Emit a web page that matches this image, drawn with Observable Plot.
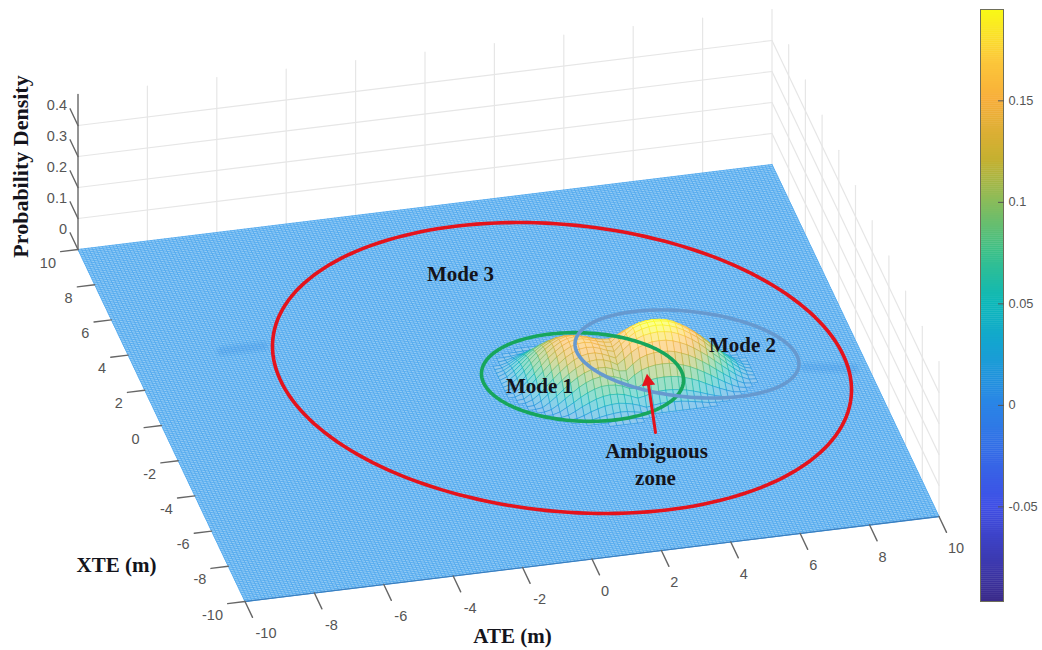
<!DOCTYPE html>
<html><head><meta charset="utf-8">
<script src="https://cdn.jsdelivr.net/npm/d3@7"></script>
<script src="https://cdn.jsdelivr.net/npm/@observablehq/plot@0.6"></script>
<style>
html,body{margin:0;padding:0;background:#fff;overflow:hidden}
#wrap{position:relative;width:1042px;height:650px}
#wrap svg{position:absolute;top:0;display:block}
</style></head><body><div id="wrap"></div>
<script>
// Heights (thousandths of density) are hand estimates from the picture's silhouette and colours; the hidden back slopes are guesses.
const ateTicks=[-10,-8,-6,-4,-2,0,2,4,6,8,10];
const xteTicks=[-10,-8,-6,-4,-2,0,2,4,6,8,10];
const zTicks=[0,0.1,0.2,0.3,0.4];
const barTicks=[-0.05,0,0.05,0.1,0.15];
const colorStops=[-0.0966,-0.05,0,0.03,0.05,0.075,0.1,0.12,0.15,0.17,0.195];
const colorRange=["#3a2a8a","#3f4fe6","#2a85e6","#14a5d0","#0cb8b8","#3cc088","#8abc5a","#c4b030","#f8ae3a","#fcc93a","#f9fb15"];
const rowXTE=[1.6,1.4,1.2,1.0,0.8,0.6,0.4,0.2,0,-0.2,-0.4,-0.6,-0.8,-1.0,-1.2,-1.4,-1.6,-1.8,-2.0,-2.2,-2.4,-2.6,-2.8];
const rowStartATE=[0.8,0.4,0.2,0.2,0,0,0,0,0,0,0,0,0.2,0.2,0.4,0.4,0.6,0.8,1.0,1.2,1.4,1.8,2.4];
const rowHeights=[
[1,1,1,1],
[1,4,8,10,10,9,6,3],
[2,7,14,20,24,26,25,22,16,10,3],
[6,16,25,34,40,44,44,41,35,26,17,7,1],
[3,12,25,37,48,57,62,63,61,55,46,35,22,10,2,0,2,5,7,8,9,8,7,5,2],
[6,18,33,48,62,72,80,83,82,77,67,60,50,38,28,26,30,32,33,34,34,33,31,27,22,16,10,4],
[8,22,39,57,73,86,95,100,100,96,88,80,70,60,52,50,56,60,61,62,62,61,58,53,46,38,29,20,12,4],
[8,24,43,63,80,96,107,115,117,115,107,100,90,80,72,72,80,85,89,93,94,93,89,83,75,65,54,42,29,18,8,1],
[8,24,44,66,86,103,116,126,130,129,123,116,108,98,92,98,104,111,118,122,124,122,118,111,102,91,78,64,49,34,20,9,1],
[6,23,44,66,87,106,122,133,139,140,136,130,122,115,110,120,128,137,144,149,150,149,144,137,127,114,100,85,67,50,33,18,6],
[4,19,39,63,85,105,122,136,144,147,144,138,132,128,126,135,146,156,164,169,170,169,164,156,146,133,117,101,82,63,45,27,13,2],
[1,14,34,56,79,101,119,135,145,150,149,143,136,130,127,145,158,170,178,182,184,182,178,170,158,145,129,111,92,72,53,34,18,5],
[8,26,50,71,93,113,129,141,147,149,145,136,128,124,140,160,176,184,188,190,188,184,176,164,150,135,116,97,77,57,37,20,6],
[2,16,36,59,81,101,119,132,141,144,142,135,126,120,140,158,173,181,186,188,186,181,173,162,148,133,115,95,75,55,36,19,6],
[8,24,45,67,87,105,120,130,135,135,129,120,110,132,150,164,172,176,178,176,172,164,153,140,124,106,87,69,49,31,15,4],
[1,13,31,51,71,89,104,116,122,124,121,113,100,116,134,147,155,160,161,160,155,147,137,124,109,93,75,57,40,23,10,1],
[3,17,34,53,71,86,98,106,109,108,101,91,89,108,124,132,136,137,136,132,124,115,103,89,74,58,42,27,13,3],
[5,18,34,50,66,78,87,91,92,87,79,67,84,97,104,108,109,108,104,97,89,78,66,53,39,26,14,4],
[6,18,31,45,57,66,72,73,71,65,55,52,64,74,77,78,77,74,68,61,52,41,30,20,11,3],
[4,14,26,36,45,51,54,53,49,41,32,36,43,46,47,46,43,39,33,26,18,11,5],
[2,9,18,25,31,34,35,32,27,20,11,15,18,19,18,17,14,10,6,2],
[4,9,13,16,18,17,13,9,4],
[3,5,5,3]
];
const ellipseNames=["Mode 3","Mode 1","Mode 2"];
const ellipseCx=[561.5,582,686.5], ellipseCy=[367.5,376.5,353.5];
const ellipseA=[290.6,101.1,112.5], ellipseB=[143.3,44.2,42.7], ellipseTilt=[5.7,2.3,5.9];
const ellipseColor=["#e4131c","#17a65c","#6699cf"];
const streakATE=[[-7.4,-6.2],[8.3,9.6]], streakXTE=[[3.6,3.6],[-1.1,-1.5]];
const arrowTail=[655,432], arrowHead=[647.5,381];

// view calibration: screen position of the plot's centre and one unit along each data axis
const view={cx:508,cy:382.5,ax:34.7,ay:-4.25,xx:-8.35,xy:-17.6,zy:-310};
const px=(a,x)=>view.cx+view.ax*a+view.xx*x;
const py=(a,x,z=0)=>view.cy+view.ay*a+view.xy*x+view.zy*z;
const segs=(defs)=>{const o=[];defs.forEach((d,i)=>{o.push({sx:px(d[0],d[1]),sy:py(d[0],d[1],d[2]),id:i},{sx:px(d[3],d[4]),sy:py(d[3],d[4],d[5]),id:i});});return o;};

// height lookup
const hKey=(a,x)=>Math.round(a*5)+":"+Math.round(x*5);
const hMap=new Map();
rowXTE.forEach((x,r)=>rowHeights[r].forEach((h,c)=>hMap.set(hKey(rowStartATE[r]+c*0.2,x),h/1000)));
const H=(a,x)=>hMap.get(hKey(a,x))||0;
const colorFn=d3.scaleLinear(colorStops,colorRange);
const tint=h=>d3.interpolateRgb(colorFn(h),"#fff")(0.5);

// raised cells, painted back to front
const cells=[];let cid=0;
for(let xi=9;xi>=-15;xi--){for(let ai=40;ai>=-2;ai--){
  const a0=ai/5,a1=(ai+1)/5,x0=xi/5,x1=(xi-1)/5;
  const cs=[[a0,x0],[a1,x0],[a1,x1],[a0,x1],[a0,x0]];
  const hs=cs.map(c=>H(c[0],c[1]));
  if(d3.max(hs)<=0)continue;
  const m=d3.mean(hs.slice(0,4))+0.01;
  cs.forEach((c,i)=>cells.push({sx:px(c[0],c[1]),sy:py(c[0],c[1],hs[i]),id:cid,h:m}));
  cid++;
}}

// flat mesh
const gridSteps=d3.range(0,201).map(i=>-10+i*0.1);
const flatDefs=[...gridSteps.map(v=>[v,-10,0,v,10,0]),...gridSteps.map(v=>[-10,v,0,10,v,0])];
const planeOutline=[[-10,10],[10,10],[10,-10],[-10,-10],[-10,10]].map(c=>({sx:px(c[0],c[1]),sy:py(c[0],c[1])}));
const frontEdge=segs([[-10,-10,0,10,-10,0]]);
const streaks=segs(streakATE.map((s,i)=>[s[0],streakXTE[i][0],0,s[1],streakXTE[i][1],0]));

// walls
const wallDefs=[
 ...ateTicks.filter(a=>a>-10).map(a=>[a,10,0,a,10,0.5]),
 ...xteTicks.filter(x=>x<10).map(x=>[10,x,0,10,x,0.5]),
 ...zTicks.filter(z=>z>0).flatMap(z=>[[-10,10,z,10,10,z],[10,10,z,10,-10,z]])
];
const axisDefs=[
 [-10,10,0,-10,10,0.5],
 ...ateTicks.map(a=>[a,-10,0,a,-10.9,0]),
 ...xteTicks.map(x=>[-10,x,0,-10.5,x,0]),
 ...zTicks.map(z=>[-10,10,z,-10,10.95,z])
];

// annotation ellipses
const ellipsePts=ellipseNames.flatMap((n,i)=>d3.range(0,181).map(k=>{
  const t=k/180*2*Math.PI,f=ellipseTilt[i]*Math.PI/180;
  return {name:n,c:ellipseColor[i],
    sx:ellipseCx[i]+ellipseA[i]*Math.cos(t)*Math.cos(f)-ellipseB[i]*Math.sin(t)*Math.sin(f),
    sy:ellipseCy[i]+ellipseA[i]*Math.cos(t)*Math.sin(f)+ellipseB[i]*Math.sin(t)*Math.cos(f)};
}));
const serif={fontFamily:"Liberation Serif",fontWeight:"bold",fill:"#14141c"};
const sans={fontFamily:"Liberation Sans",fontSize:14.5,fill:"#555"};
const notes=[
 {t:"Mode 3",x:460,y:274},{t:"Mode 1",x:539,y:386},{t:"Mode 2",x:742,y:345},
 {t:"Ambiguous",x:656,y:451},{t:"zone",x:655,y:478},{t:"XTE (m)",x:116,y:565},{t:"ATE (m)",x:512,y:636}
];
const colorCfg={type:"linear",domain:colorStops,range:colorRange,interpolate:d3.interpolateRgb,clamp:true};
const ateLabelShift=a=>13+4*(String(a).length-1);

const main=Plot.plot({
  width:1042,height:650,margin:0,
  x:{axis:null,domain:[0,1042],range:[0,1042]},
  y:{axis:null,domain:[0,650],range:[0,650]},
  color:colorCfg,
  style:{background:"transparent"},
  marks:[
    Plot.line(segs(wallDefs),{x:"sx",y:"sy",z:"id",stroke:"#e6e6e6",strokeWidth:1.2}),
    Plot.line(planeOutline,{x:"sx",y:"sy",fill:"#9ed0f5",stroke:"none"}),
    Plot.line(segs(flatDefs),{x:"sx",y:"sy",z:"id",stroke:"#52a9ee",strokeWidth:0.9}),
    Plot.line(streaks,{x:"sx",y:"sy",z:"id",stroke:"#2f86dd",strokeOpacity:0.1,strokeWidth:12,strokeLinecap:"round"}),
    Plot.line(streaks,{x:"sx",y:"sy",z:"id",stroke:"#2f86dd",strokeOpacity:0.12,strokeWidth:6,strokeLinecap:"round"}),
    Plot.line(cells,{x:"sx",y:"sy",z:"id",stroke:"h",fill:{value:d=>tint(d.h),scale:null},strokeWidth:0.55}),
    Plot.line(frontEdge,{x:"sx",y:"sy",stroke:"#3a7fc0",strokeWidth:1.3}),
    Plot.line(segs(axisDefs),{x:"sx",y:"sy",z:"id",stroke:"#666",strokeWidth:1.4}),
    Plot.text(ateTicks,{x:a=>px(a,-10)+ateLabelShift(a),y:a=>py(a,-10),text:a=>String(a),dy:32,...sans}),
    Plot.text(xteTicks,{x:x=>px(-10,x),y:x=>py(-10,x),text:x=>String(x),dx:-22,dy:13.5,textAnchor:"end",...sans}),
    Plot.text(zTicks,{x:()=>px(-10,10),y:z=>py(-10,10,z),text:z=>String(z),dx:-11,dy:-20,textAnchor:"end",...sans}),
    Plot.line(ellipsePts,{x:"sx",y:"sy",z:"name",stroke:"c",strokeWidth:3.6}),
    Plot.line([arrowTail,arrowHead],{x:d=>d[0],y:d=>d[1],stroke:"#e4131c",strokeWidth:3}),
    Plot.dot([arrowHead],{x:d=>d[0],y:d=>d[1],symbol:"triangle",r:5,rotate:-8,fill:"#e4131c",stroke:"none"}),
    Plot.text(notes,{x:"x",y:"y",text:"t",fontSize:21,...serif}),
    Plot.text(["Probability Density"],{x:()=>20,y:()=>166,text:d=>d,rotate:-90,fontSize:22,...serif})
  ]
});
main.style.left="0px";
document.getElementById("wrap").append(main);

const barLevels=d3.range(0,292).map(i=>-0.0966+i*0.001);
const bar=Plot.plot({
  width:82,height:650,marginLeft:20,marginRight:39,marginTop:9,marginBottom:49,
  x:{axis:null},
  y:{domain:[-0.0966,0.195],range:[601,9],axis:null},
  color:colorCfg,
  style:{background:"transparent"},
  marks:[
    Plot.rectY(barLevels,{y1:d=>d,y2:d=>Math.min(0.195,d+0.0012),fill:d=>d}),
    Plot.frame({stroke:"#6e6e5a",strokeWidth:1}),
    Plot.axisY(barTicks,{anchor:"right",tickSize:-6,tickPadding:11,tickFormat:d=>String(d),fontFamily:"Liberation Sans",fontSize:12.8,color:"#555",textAnchor:"start",label:null})
  ]
});
bar.style.left="960px";
document.getElementById("wrap").append(bar);
</script></body></html>
